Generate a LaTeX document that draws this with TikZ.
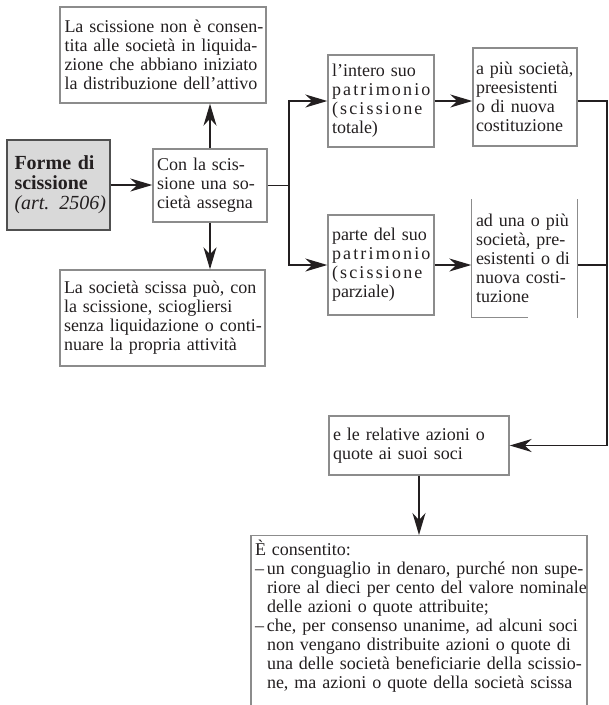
\documentclass[tikz,border=0pt]{standalone}
\usepackage{fontspec}
\setmainfont{Liberation Serif}
\usetikzlibrary{arrows.meta, positioning}
\definecolor{ink}{HTML}{231F20}
\definecolor{frame}{HTML}{8C8C8C}
\definecolor{keyfill}{HTML}{D9D9D9}
\definecolor{keyframe}{HTML}{505050}
\newcommand{\jl}[1]{\makebox[\linewidth][s]{#1}\\}
\newcommand{\spaced}[1]{{\addfontfeature{LetterSpace=12}#1}}
\newcommand{\dashline}[2]{\makebox[12pt][l]{#1}\makebox[\dimexpr\linewidth-12pt\relax][s]{#2}\\}
\newcommand{\dashlast}[1]{\hspace*{12pt}#1\\}
\tikzstyle{rule} = [draw=frame, line width=1.4pt]
\tikzstyle{panel} = [rule, text=ink, align=left, inner sep=4pt, font=\fontsize{18}{19}\selectfont]
\tikzstyle{keypanel} = [panel, draw=keyframe, fill=keyfill, font=\fontsize{20}{20}\selectfont]
\tikzstyle{flow} = [draw=ink, line width=1.8pt, -{Stealth[length=22pt,width=13pt,inset=7pt]}]
\tikzstyle{link} = [draw=ink, line width=1.8pt]

\begin{document}
\begin{tikzpicture}[x=1pt, y=-1pt]
  \useasboundingbox (0,0) rectangle (609,705);

  % riquadri di sinistra
  \node[keypanel, inner xsep=6pt, minimum width=103pt, minimum height=90pt, text width=88pt] (forme) at (58.5,185)
    {\jl{\textbf{Forme di}}\textbf{scissione}\\\mbox{\textit{(art. 2506)}}};
  \node[panel, minimum width=112pt, minimum height=73pt, text width=106pt] (con) at (210,185.5)
    {\jl{Con la scis-}\jl{sione una so-}cietà assegna};
  \node[panel, minimum width=206pt, minimum height=96pt, text width=197pt] (noliq) at (163,55)
    {\jl{La scissione non è consen-}\jl{tita alle società in liquida-}\jl{zione che abbiano iniziato}la distribuzione dell’attivo};
  \node[panel, minimum width=205pt, minimum height=96pt, text width=197pt] (scissa) at (162.5,318)
    {\jl{La società scissa può, con}\jl{la scissione, sciogliersi}\jl{senza liquidazione o conti-}nuare la propria attività};

  % scissione totale e parziale
  \node[panel, minimum width=104pt, minimum height=92pt, text width=98pt] (intero) at (381,101)
    {\jl{l’intero suo}\spaced{patrimonio}\\\spaced{(scissione}\\totale)};
  \node[panel, inner xsep=3pt, minimum width=104pt, minimum height=98pt, text width=98pt] (apiu) at (525,97)
    {\jl{a più società,}preesistenti\\\jl{o di nuova}costituzione};
  \node[panel, minimum width=104pt, minimum height=100pt, text width=98pt] (parte) at (381,265)
    {\jl{parte del suo}\spaced{patrimonio}\\\spaced{(scissione}\\parziale)};
  \node[panel, draw=none, minimum width=103pt, minimum height=117pt, text width=97pt] (aduna) at (524.5,258.5)
    {\jl{ad una o più}\jl{società, pre-}\jl{esistenti o di}\jl{nuova costi-}tuzione};
  \draw[rule] (aduna.north west) -- (aduna.south west) -- ++(57,0);
  \draw[rule] (aduna.north east) -- (aduna.south east);

  % assegnazione ai soci
  \node[panel, minimum width=180pt, minimum height=59pt, text width=172pt] (azioni) at (419,445.5)
    {\jl{e le relative azioni o}quote ai suoi soci};
  \node[panel, anchor=north, text width=328pt, text depth=168pt] (consentito) at (419,535)
    {È consentito:\\
     \dashline{–}{un conguaglio in denaro, purché non supe-}
     \dashline{}{riore al dieci per cento del valore nominale}
     \dashlast{delle azioni o quote attribuite;}
     \dashline{–}{che, per consenso unanime, ad alcuni soci}
     \dashline{}{non vengano distribuite azioni o quote di}
     \dashline{}{una delle società beneficiarie della scissio-}
     \hspace*{12pt}ne, ma azioni o quote della società scissa};

  % collegamenti
  \coordinate (split) at (289,185.5);
  \coordinate (edge) at (607,101);
  \draw[flow] (forme.east) -- (forme.east -| con.west);
  \draw[flow] (con.north) -- (con.north |- noliq.south);
  \draw[flow] (con.south) -- (con.south |- scissa.north);
  \draw[flow] (con.east) -- (split) |- (intero.west);
  \draw[flow] (split) |- (parte.west);
  \draw[flow] (intero.east) -- (intero.east -| apiu.west);
  \draw[flow] (parte.east) -- (parte.east -| aduna.west);
  \draw[flow] (intero.east -| apiu.east) -- (edge) |- (azioni.east);
  \draw[link] (parte.east -| aduna.east) -- (parte.east -| edge);
  \draw[flow] (azioni.south) -- (consentito.north);
\end{tikzpicture}
\end{document}
